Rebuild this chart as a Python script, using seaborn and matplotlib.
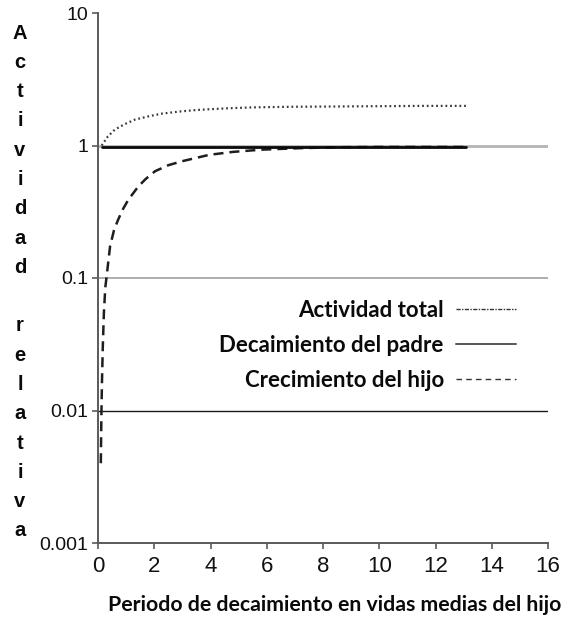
import matplotlib
matplotlib.use("Agg")
import matplotlib.pyplot as plt
from matplotlib.lines import Line2D
import matplotlib.ticker as mticker
import pandas as pd
import seaborn as sns

# Tiempo en vidas medias del hijo y actividad relativa de cada curva
t_total = [0.13, 0.35, 0.6, 0.95, 1.32, 1.8, 2.27, 2.85, 3.45, 4.0, 4.64, 5.5,
           6.9, 8.5, 10.0, 11.5, 13.1]
a_total = [1.0, 1.17, 1.32, 1.45, 1.57, 1.66, 1.74, 1.80, 1.85, 1.88, 1.91, 1.94,
           1.96, 1.97, 1.98, 1.99, 1.99]

t_padre = [0.13, 13.1]
a_padre = [0.975, 0.975]

t_hijo = [0.10, 0.12, 0.14, 0.17, 0.21, 0.26, 0.30, 0.43, 0.57, 0.72, 0.90, 1.08,
          1.43, 1.70, 2.03, 2.50, 2.98, 3.95, 4.80, 5.80, 7.20, 8.50, 10.0, 13.1]
a_hijo = [0.004, 0.009, 0.016, 0.030, 0.055, 0.085, 0.10, 0.174, 0.23, 0.277, 0.335,
          0.39, 0.49, 0.56, 0.64, 0.71, 0.76, 0.85, 0.895, 0.93, 0.955, 0.97, 0.975,
          0.975]

y_ticks = [0.001, 0.01, 0.1, 1, 10]
y_labels = ["0.001", "0.01", "0.1", "1", "10"]
x_ticks = [0, 2, 4, 6, 8, 10, 12, 14, 16]

legend_labels = ["Actividad total", "Decaimiento del padre", "Crecimiento del hijo"]

sns.set_style("white")
plt.rcParams["font.family"] = ["Liberation Sans", "DejaVu Sans"]

fig = plt.figure(figsize=(5.82, 6.21), dpi=100)
ax = fig.add_axes([98 / 582, 1 - 543 / 621, 450 / 582, 530 / 621])

ax.set_yscale("log")
ax.set_ylim(0.001, 10)
ax.set_xlim(0, 16)

# Reference lines at the decades
ax.axhline(1, color="#b4b4b4", lw=2.0, zorder=1)
ax.axhline(0.1, color="#a8a8a8", lw=1.3, zorder=1)
ax.axhline(0.01, color="#1a1a1a", lw=1.0, zorder=1)

df_total = pd.DataFrame({"t": t_total, "a": a_total})
df_padre = pd.DataFrame({"t": t_padre, "a": a_padre})
df_hijo = pd.DataFrame({"t": t_hijo, "a": a_hijo})

sns.lineplot(data=df_hijo, x="t", y="a", ax=ax, color="#1e1e1e", lw=1.8,
             linestyle=(0, (4.0, 2.4)), zorder=3, legend=False)
sns.lineplot(data=df_padre, x="t", y="a", ax=ax, color="#0a0a0a", lw=2.0,
             zorder=4, legend=False)
sns.lineplot(data=df_total, x="t", y="a", ax=ax, color="#3a3a3a", lw=1.6,
             linestyle=(0, (0.8, 1.3)), zorder=3, legend=False)

ax.set_yticks(y_ticks)
ax.yaxis.set_major_formatter(mticker.FixedFormatter(y_labels))
ax.yaxis.set_minor_locator(mticker.NullLocator())
ax.set_xticks(x_ticks)

for s in ["top", "right"]:
    ax.spines[s].set_visible(False)
for s in ["left", "bottom"]:
    ax.spines[s].set_color("#5a5a5a")
    ax.spines[s].set_linewidth(1.4)

ax.tick_params(axis="y", which="major", direction="out", length=4, width=1.2,
               color="#5a5a5a", labelsize=14, labelcolor="#111111", pad=3,
               left=True)
ax.tick_params(axis="x", which="major", direction="out", length=4, width=1.2,
               color="#5a5a5a", labelsize=16, labelcolor="#111111", pad=5,
               bottom=True)

ax.set_xlabel("Periodo de decaimiento en vidas medias del hijo",
              family=["Lato", "DejaVu Sans"], fontweight="bold", fontsize=15.3,
              color="#0a0a0a", ha="left", va="center")
ax.xaxis.set_label_coords((108 - 98) / 450, (543 - 605) / 530)
ax.set_ylabel("")

# Vertical stacked y label
fig.text(20 / 582, 1 - 282 / 621, "A\nc\nt\ni\nv\ni\nd\na\nd\n\nr\ne\nl\na\nt\ni\nv\na",
         ha="center", va="center", ma="center", fontsize=14.5, fontweight="bold",
         linespacing=1.685, color="#0a0a0a")

handles = [
    Line2D([], [], color="#333333", lw=1.0, linestyle=(0, (3, 1, 1, 1))),
    Line2D([], [], color="#555555", lw=1.4),
    Line2D([], [], color="#333333", lw=1.0, linestyle=(0, (4, 3))),
]
leg = ax.legend(handles, legend_labels, loc="upper right", frameon=False,
                markerfirst=False, bbox_to_anchor=((516 - 98) / 450, (543 - 300) / 530),
                borderaxespad=0, borderpad=0, handlelength=2.7, handletextpad=0.55,
                labelspacing=0.62,
                prop={"family": ["Lato", "DejaVu Sans"], "weight": "bold", "size": 16})
for t in leg.get_texts():
    t.set_color("#0a0a0a")

fig.savefig("out.png", dpi=100)
